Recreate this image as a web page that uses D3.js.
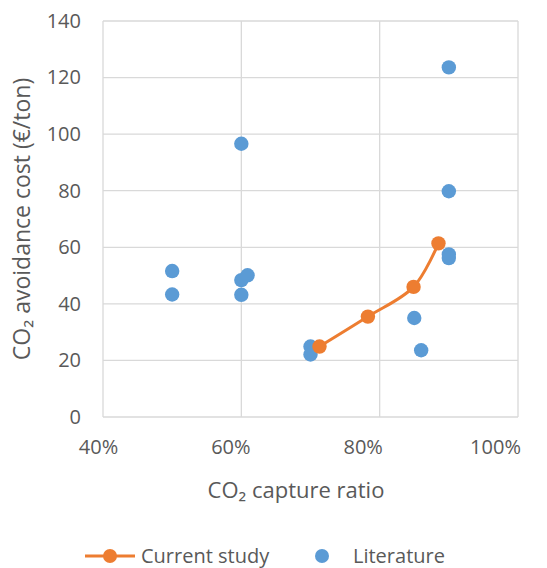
<!DOCTYPE html>
<html lang="en">
<head>
<meta charset="utf-8">
<script src="https://d3js.org/d3.v7.min.js"></script>
<title>CO2 avoidance cost</title>
<style>
  body { margin: 0; background: #fff; }
  text { font-family: "Open Sans", sans-serif; fill: #595959; }
</style>
</head>
<body>
<div id="chart"></div>
<script>
// capture ratio / avoidance cost (€/ton)
const studyX = [0.713, 0.783, 0.849, 0.885];
const studyY = [24.9, 35.5, 46.0, 61.4];

const litX = [0.60, 0.90, 0.90, 0.90, 0.90, 0.50, 0.50, 0.60, 0.609, 0.60, 0.70, 0.70, 0.85, 0.86];
const litY = [96.6, 123.6, 79.8, 57.5, 56.2, 51.6, 43.3, 48.4, 50.1, 43.2, 24.9, 22.1, 35.0, 23.6];

const xTicks = [0.4, 0.6, 0.8, 1.0];
const yTicks = [0, 20, 40, 60, 80, 100, 120, 140];

const W = 547, H = 568;
const padL = 103, padR = 518, padT = 21, padB = 417;

const svg = d3.select("#chart").append("svg").attr("width", W).attr("height", H);

const x = d3.scaleLinear().domain([0.4, 1.0]).range([padL, padR]);
const y = d3.scaleLinear().domain([0, 140]).range([padB, padT]);
// labels in the original sit a bit left of their gridlines
const xLab = d3.scaleLinear().domain([0.4, 1.0]).range([98, 495]);

// gridlines
svg.append("g").selectAll("line").data(yTicks).join("line")
   .attr("x1", padL).attr("x2", padR)
   .attr("y1", d => y(d)).attr("y2", d => y(d))
   .attr("stroke", "#d9d9d9").attr("stroke-width", 1.3);
svg.append("g").selectAll("line").data(xTicks).join("line")
   .attr("y1", padT).attr("y2", padB)
   .attr("x1", d => x(d)).attr("x2", d => x(d))
   .attr("stroke", "#d9d9d9").attr("stroke-width", 1.3);

// axes (labels only)
const yAxis = svg.append("g").attr("transform", "translate(" + (padL - 22) + ",0)")
   .call(d3.axisLeft(y).tickValues(yTicks).tickSize(0).tickPadding(0));
yAxis.select(".domain").remove();
yAxis.selectAll("text").style("font-size", "20px").style("font-family", "Open Sans").attr("fill", "#595959");

const xAxis = svg.append("g").attr("transform", "translate(0,440)")
   .call(d3.axisBottom(xLab).tickValues(xTicks).tickSize(0).tickPadding(0).tickFormat(d3.format(".0%")));
xAxis.select(".domain").remove();
xAxis.selectAll("text").style("font-size", "20px").style("font-family", "Open Sans").attr("fill", "#595959");

// axis titles
svg.append("text").attr("x", 296).attr("y", 498).attr("text-anchor", "middle")
   .style("font-size", "22px").text("CO₂ capture ratio");

svg.append("text")
   .attr("transform", "translate(30,219) rotate(-90)")
   .attr("text-anchor", "middle").style("font-size", "23px")
   .text("CO₂ avoidance cost (€/ton)");

// literature points
svg.append("g").selectAll("circle").data(litX.map((d, i) => [d, litY[i]])).join("circle")
   .attr("cx", d => x(d[0])).attr("cy", d => y(d[1])).attr("r", 7.2)
   .attr("fill", "#5b9bd5");

// current study
const pts = studyX.map((d, i) => [d, studyY[i]]);
const line = d3.line().x(d => x(d[0])).y(d => y(d[1])).curve(d3.curveCatmullRom);
svg.append("path").datum(pts).attr("d", line)
   .attr("fill", "none").attr("stroke", "#ed7d31").attr("stroke-width", 3);
svg.append("g").selectAll("circle").data(pts).join("circle")
   .attr("cx", d => x(d[0])).attr("cy", d => y(d[1])).attr("r", 7.2)
   .attr("fill", "#ed7d31");

// legend
const lg = svg.append("g").attr("transform", "translate(0,556)");
lg.append("line").attr("x1", 85).attr("x2", 135).attr("stroke", "#ed7d31").attr("stroke-width", 3);
lg.append("circle").attr("cx", 110).attr("r", 7).attr("fill", "#ed7d31");
lg.append("text").attr("x", 141).attr("dy", "0.35em").style("font-size", "20px").text("Current study");
lg.append("circle").attr("cx", 322).attr("r", 7).attr("fill", "#5b9bd5");
lg.append("text").attr("x", 353).attr("dy", "0.35em").style("font-size", "20px").text("Literature");
</script>
</body>
</html>
